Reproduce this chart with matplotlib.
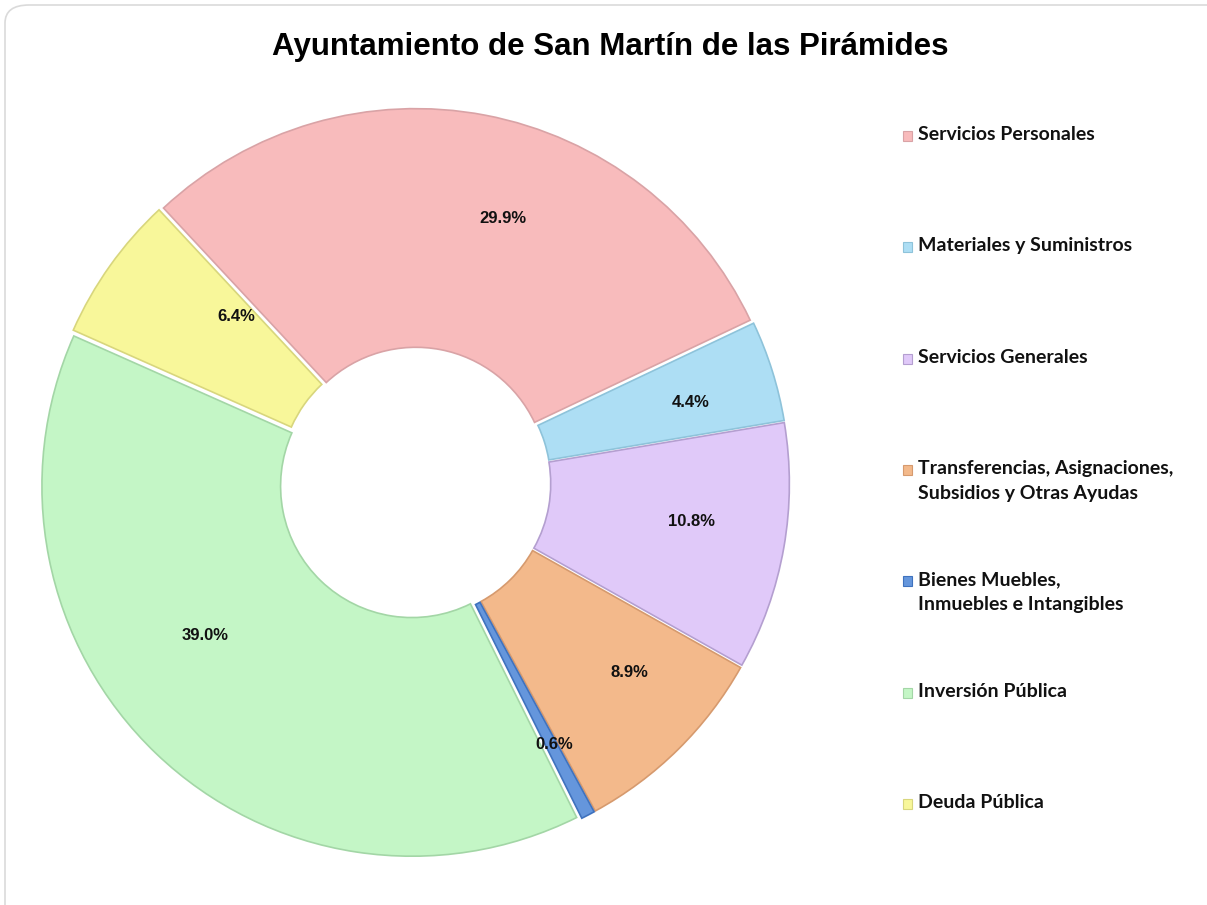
import numpy as np
import matplotlib.pyplot as plt
from matplotlib.patches import Rectangle, FancyBboxPatch
from matplotlib import font_manager

# data
categories = ['Servicios Personales', 'Materiales y Suministros', 'Servicios Generales',
              'Transferencias, Asignaciones,\nSubsidios y Otras Ayudas',
              'Bienes Muebles,\nInmuebles e Intangibles', 'Inversión Pública', 'Deuda Pública']
shares = [29.9, 4.4, 10.8, 8.9, 0.6, 39.0, 6.4]
colors = ['#F8BBBC', '#ADDEF4', '#E0C9F9', '#F3B98B', '#6596DC', '#C4F6C6', '#F8F79A']
edges = ['#D9A3A6', '#8EC3DA', '#B49FD0', '#D69A6E', '#3F72BE', '#A3D6A6', '#D8D67D']
# label placement as in the original (angle nudge in degrees, radius as fraction)
lab_nudge = [-7.5, -1.2, 2.1, 3.9, 0.6, -10.2, -7.4]
lab_rad = [0.754, 0.775, 0.755, 0.774, 0.80, 0.70, 0.66]

names = {f.name for f in font_manager.fontManager.ttflist}
pct_font = 'Liberation Sans Narrow' if 'Liberation Sans Narrow' in names else 'Liberation Sans'
pct_size = 14 if pct_font == 'Liberation Sans Narrow' else 12

W, H = 1207, 905
fig = plt.figure(figsize=(W / 100, H / 100), dpi=100)

# card border of the screenshot
card = FancyBboxPatch((5 / W, -0.05), 1.2, 1.05 - 5 / H, boxstyle='round,pad=0,rounding_size=0.02',
                      transform=fig.transFigure, facecolor='white', edgecolor='#DADADA', lw=1.2,
                      zorder=-10)
fig.patches.append(card)

cx, cy, R = 415, 483, 370
ax = fig.add_axes([(cx - R) / W, (H - cy - R) / H, 2 * R / W, 2 * R / H])
ax.set_zorder(5)
ax.patch.set_alpha(0)

wedges, texts, autotexts = ax.pie(
    shares, colors=colors, startangle=133, counterclock=False,
    explode=[0.012] * len(shares),
    autopct='%1.1f%%', pctdistance=0.76,
    wedgeprops=dict(width=0.645, linewidth=1.2),
    textprops=dict(fontsize=pct_size, fontweight='bold', family=pct_font, color='#111111'))
for w, ec, t, dn, rr in zip(wedges, edges, autotexts, lab_nudge, lab_rad):
    w.set_edgecolor(ec)
    a = np.deg2rad((w.theta1 + w.theta2) / 2 + dn)
    t.set_position((rr * np.cos(a), rr * np.sin(a)))
ax.set_xlim(-1, 1)
ax.set_ylim(-1, 1)
ax.set_aspect('equal')

fig.text(610 / W, 1 - 47 / H, 'Ayuntamiento de San Martín de las Pirámides', ha='center', va='center',
         fontsize=22.5, fontweight='bold', family='Liberation Sans')

# legend, drawn entry by entry
y0, step = 136, 111.3
for i, (lab, c, ec) in enumerate(zip(categories, colors, edges)):
    y = y0 + i * step
    fig.patches.append(Rectangle((903 / W, 1 - (y + 5) / H), 9 / W, 10 / H, transform=fig.transFigure,
                                 facecolor=c, edgecolor=ec, lw=0.8))
    fig.text(918 / W, 1 - (y - 10) / H, lab, ha='left', va='top', fontsize=14, fontweight='bold',
             family='Lato', linespacing=1.55, color='#111111')

fig.savefig('out.png', dpi=100)
